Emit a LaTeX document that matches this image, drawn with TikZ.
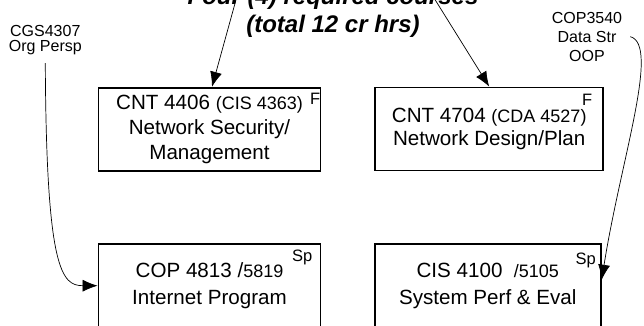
\documentclass[tikz,border=0pt]{standalone}
\usepackage{fontspec}
\setmainfont{Liberation Sans}
\usetikzlibrary{positioning,arrows.meta}
\newcommand{\smallnum}[1]{{\fontsize{18}{25}\selectfont #1}}

\begin{document}
\begin{tikzpicture}[x=1pt,y=-1pt]
    \tikzset{course/.style={rectangle, draw=black, line width=1.8pt, minimum height=83pt, inner sep=0pt, align=center, font=\fontsize{20.6}{25}\selectfont},
             prereq/.style={align=center, inner sep=8pt, font=\fontsize{16}{19}\selectfont},
             term/.style={inner sep=0pt, font=\fontsize{16.5}{18}\selectfont},
             link/.style={-{Latex[length=15pt,width=12pt]}, line width=0.7pt}}
\useasboundingbox (0,0) rectangle (644,326);
\clip (0,0) rectangle (644,326);
% Titel
\node[align=center, inner sep=0pt, font=\fontsize{24}{28}\selectfont\bfseries\itshape] (reqcourses) at (333,12.75) {Four (4) required courses\\(total 12 cr hrs)};
\coordinate (reqleft) at (236.5,-2);
\coordinate (reqright) at (434,-2);
% Pflichtkurse oben
\node[course, minimum width=222pt, label={[term, anchor=north east, yshift=-5.8pt, xshift=-1pt]north east:F}] (cnt4406) at (209.5,129.2) {CNT 4406 \smallnum{(CIS 4363)}\\Network Security/\\Management};
\node[course, minimum width=228pt, font=\fontsize{20.6}{22.5}\selectfont, label={[term, anchor=north east, yshift=-7.7pt, xshift=-11.6pt]north east:F}] (cnt4704) at (489.2,129) {CNT 4704 \smallnum{(CDA 4527)}\\Network Design/Plan};
% Pflichtkurse unten
\node[course, minimum width=222pt, font=\fontsize{20.6}{27}\selectfont, label={[term, anchor=north east, yshift=-6pt, xshift=-9pt]north east:Sp}] (cop4813) at (209.5,285.7) {COP 4813 /\smallnum{5819}\\Internet Program};
\node[course, minimum width=226pt, font=\fontsize{20.6}{27}\selectfont, label={[term, anchor=north east, yshift=-9pt, xshift=-5.7pt]north east:Sp}] (cis4100) at (487.8,285.7) {CIS 4100\ \ \smallnum{/5105}\\System Perf \& Eval};
% Voraussetzungen
\node[prereq, font=\fontsize{16}{15.5}\selectfont] (cgs4307) at (45.3,40) {CGS4307\\Org Persp};
\node[prereq] (cop3540) at (587,36.7) {COP3540\\Data Str\\OOP};

% Verbindungen
\draw[link] (reqleft) -- ([xshift=2.5pt]cnt4406.north);
\draw[link] (reqright) -- (cnt4704.north);
\draw[link] (cgs4307.south) .. controls +(1,207) and +(-36,0) .. (cop4813.west);
\draw[link] (cop3540.east) .. controls +(30,8) and +(19,-120) .. (cis4100.3);

\end{tikzpicture}
\end{document}
